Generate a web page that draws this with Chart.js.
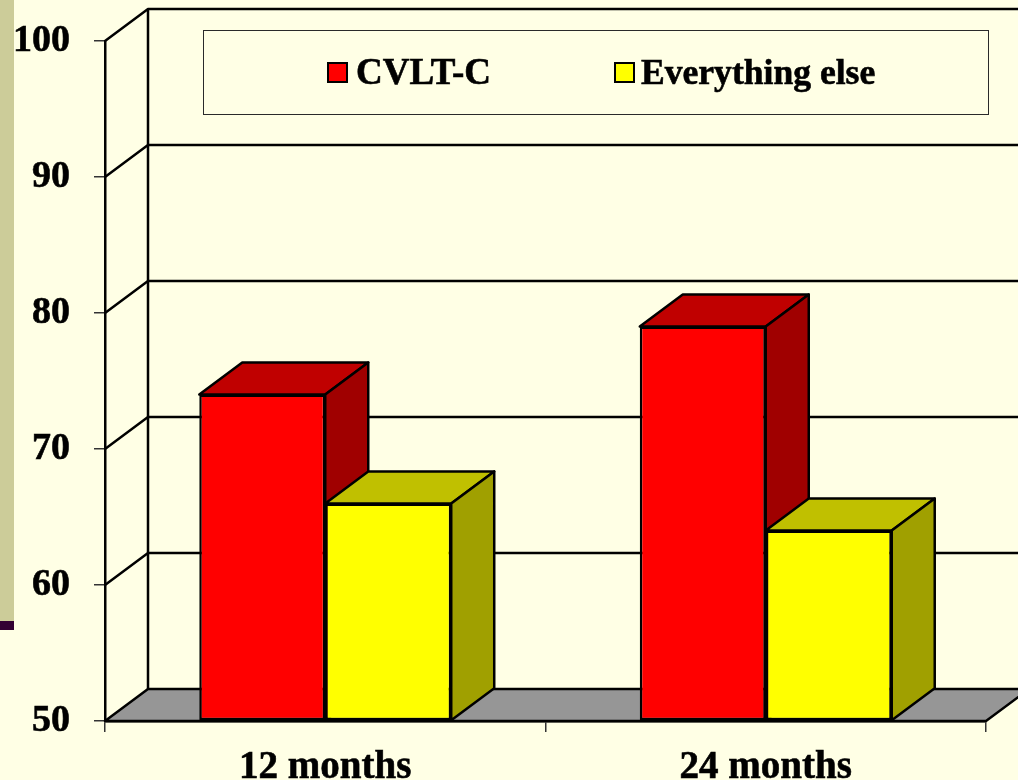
<!DOCTYPE html>
<html>
<head>
<meta charset="utf-8">
<title>CVLT-C</title>
<script src="https://cdn.jsdelivr.net/npm/chart.js@4/dist/chart.umd.min.js"></script>
<style>
    html, body { margin: 0; padding: 0; background: #ffffe5; overflow: hidden; }
    #franja { position: absolute; left: 0; top: 0; width: 14px; height: 621px; background: #cccc99; }
    #franjaBase { position: absolute; left: 0; top: 621px; width: 14px; height: 9px; background: #330033; }
    #grafico { position: absolute; left: 0; top: 0; }
</style>
</head>
<body>
<div id="franja"></div>
<div id="franjaBase"></div>
<canvas id="grafico" width="1018" height="780"></canvas>
<script>
const categorias = ["12 months", "24 months"];
const serieCvlt = [74, 79];
const serieResto = [66, 64];
const etiquetasSeries = ["CVLT-C", "Everything else"];

const FUENTE = "'Liberation Serif', 'Times New Roman', serif";
// profundidad de la perspectiva, en pixeles
const DX = 43;
const DY = 32;
const TRAZO = 2.5;
// borde superior e inferior del area de trazado
const AREA_ARRIBA = 41;
const AREA_ABAJO = 721;
// frente, techo y costado de cada serie
const COLORES = [
    { frente: "#ff0000", techo: "#c00000", lado: "#a00000" },
    { frente: "#ffff00", techo: "#c0c000", lado: "#a0a000" }
];

function poligono(ctx, puntos, relleno) {
    ctx.beginPath();
    puntos.forEach((p, i) => i ? ctx.lineTo(p[0], p[1]) : ctx.moveTo(p[0], p[1]));
    ctx.closePath();
    if (relleno) {
        ctx.fillStyle = relleno;
        ctx.fill();
    }
    ctx.stroke();
}

// pared del fondo, piso y caras laterales de las barras
const caja3d = {
    id: "caja3d",
    // la escala y reserva lugar para sus etiquetas, aca se fija el alto real
    afterLayout(chart) {
        const y = chart.scales.y;
        const area = chart.chartArea;
        area.top = AREA_ARRIBA;
        area.bottom = AREA_ABAJO;
        area.height = AREA_ABAJO - AREA_ARRIBA;
        y.top = AREA_ARRIBA;
        y.bottom = AREA_ABAJO;
        y.height = area.height;
        y.configure();
        chart.scales.x.top = AREA_ABAJO;
    },
    beforeDatasetsDraw(chart) {
        const ctx = chart.ctx;
        const { left, right, bottom } = chart.chartArea;
        const y = chart.scales.y;
        ctx.save();
        ctx.strokeStyle = "#000";
        ctx.lineWidth = TRAZO;
        ctx.lineJoin = "round";

        poligono(ctx, [[left, bottom], [left + DX, bottom - DY], [right + DX, bottom - DY], [right, bottom]], "#969696");

        y.ticks.forEach(t => {
            const py = y.getPixelForValue(t.value);
            if (t.value === y.min) return;
            ctx.beginPath();
            ctx.moveTo(left, py);
            ctx.lineTo(left + DX, py - DY);
            ctx.lineTo(right + DX, py - DY);
            ctx.stroke();
        });
        ctx.beginPath();
        ctx.moveTo(left + DX, y.getPixelForValue(y.max) - DY);
        ctx.lineTo(left + DX, bottom - DY);
        ctx.stroke();

        // cada grupo de izquierda a derecha, asi la serie siguiente tapa al lado anterior
        for (let j = 0; j < categorias.length; j++) {
            chart.data.datasets.forEach((ds, i) => {
                const barra = chart.getDatasetMeta(i).data[j];
                const x0 = barra.x - barra.width / 2;
                const x1 = barra.x + barra.width / 2;
                poligono(ctx, [[x0, barra.y], [x0 + DX, barra.y - DY], [x1 + DX, barra.y - DY], [x1, barra.y]], COLORES[i].techo);
                poligono(ctx, [[x1, barra.y], [x1 + DX, barra.y - DY], [x1 + DX, barra.base - DY], [x1, barra.base]], COLORES[i].lado);
            });
        }
        ctx.restore();
    },
    afterDraw(chart) {
        const ctx = chart.ctx;
        ctx.save();
        ctx.strokeStyle = "#2a2a2a";
        ctx.lineWidth = 1;
        ctx.strokeRect(203.5, 30.5, 785, 84);

        const cuadros = [328, 615];
        const textos = [356, 641];
        const tamanos = [37, 35.6];
        ctx.textBaseline = "alphabetic";
        ctx.textAlign = "left";
        chart.data.datasets.forEach((ds, i) => {
            ctx.fillStyle = COLORES[i].frente;
            ctx.strokeStyle = "#000";
            ctx.lineWidth = 2;
            ctx.fillRect(cuadros[i], 63, 19, 19);
            ctx.strokeRect(cuadros[i], 63, 19, 19);
            ctx.font = "bold " + tamanos[i] + "px " + FUENTE;
            ctx.fillStyle = "#000";
            ctx.lineWidth = 0.6;
            ctx.fillText(ds.label, textos[i], 84);
            ctx.strokeText(ds.label, textos[i], 84);
        });
        ctx.restore();
    }
};

new Chart(document.getElementById("grafico"), {
    type: "bar",
    data: {
        labels: categorias,
        datasets: [
            { label: etiquetasSeries[0], data: serieCvlt, backgroundColor: COLORES[0].frente },
            { label: etiquetasSeries[1], data: serieResto, backgroundColor: COLORES[1].frente }
        ]
    },
    plugins: [caja3d],
    options: {
        responsive: false,
        animation: false,
        layout: { padding: { right: 32 } },
        elements: { bar: { borderColor: "#000", borderWidth: TRAZO, borderSkipped: false } },
        datasets: { bar: { categoryPercentage: 0.572, barPercentage: 1, base: 50 } },
        plugins: {
            legend: { display: false },
            tooltip: { enabled: false }
        },
        scales: {
            x: {
                afterFit: scale => { scale.height = 59; },
                grid: { drawOnChartArea: false, tickLength: 11, color: "#333", lineWidth: 1.5 },
                border: { color: "#000", width: TRAZO },
                ticks: { color: "#000", padding: 13, maxRotation: 0, textStrokeColor: "#000", textStrokeWidth: 0.6, font: { family: FUENTE, size: 39, weight: "bold" } }
            },
            y: {
                min: 50,
                max: 100,
                afterFit: scale => { scale.width = 105; },
                grid: { drawOnChartArea: false, tickLength: 11, color: "#333", lineWidth: 1.5 },
                border: { color: "#000", width: TRAZO },
                ticks: { stepSize: 10, color: "#000", padding: 24, textStrokeColor: "#000", textStrokeWidth: 0.6, font: { family: FUENTE, size: 38, weight: "bold" } }
            }
        }
    }
});
</script>
</body>
</html>
